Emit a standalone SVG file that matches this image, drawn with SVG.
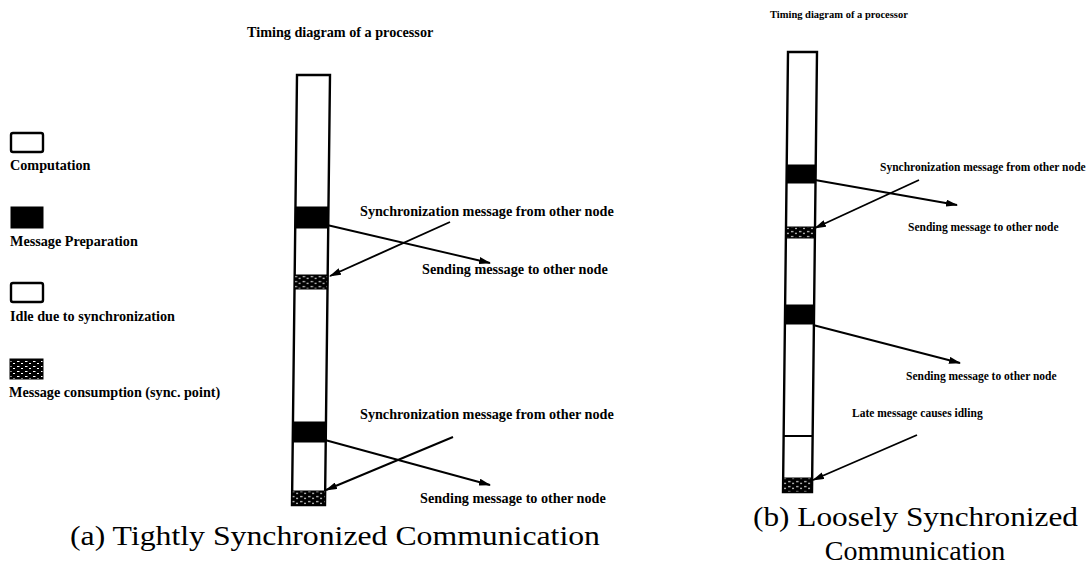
<svg xmlns="http://www.w3.org/2000/svg" width="1089" height="572" viewBox="0 0 1089 572">
<defs>
<style>
.lbl{font-family:"Liberation Serif","Times New Roman",serif;font-weight:bold;fill:#000}
.a{font-size:14.2px}
.b{font-size:11.5px}
.cap{font-family:"Liberation Serif","Times New Roman",serif;font-size:28px;fill:#000}
.bar{fill:#fff;stroke:#000;stroke-width:2.4}
.blk{fill:#000;stroke:#000;stroke-width:1}
.spk{fill:url(#speckle);stroke:#000;stroke-width:1}
.box{fill:#fff;stroke:#000;stroke-width:2.4}
.arr{fill:none;stroke:#000;stroke-width:1.9;marker-end:url(#ah)}
</style>
<pattern id="speckle" patternUnits="userSpaceOnUse" width="8" height="5">
<rect width="8" height="5" fill="#000"/>
<rect x="1" y="1" width="2.5" height="1" fill="#fff"/>
<rect x="5" y="3" width="2" height="1" fill="#fff"/>
</pattern>
<marker id="ah" markerUnits="userSpaceOnUse" markerWidth="12" markerHeight="7" refX="11" refY="3.5" orient="auto">
<path d="M0,0 L12,3.5 L0,7 z" fill="#000"/>
</marker>
</defs>

<g id="legend">
<g id="leg-computation">
<rect class="box" x="11" y="133" width="32" height="19" rx="2"/>
<text class="lbl a" x="10" y="170">Computation</text>
</g>
<g id="leg-preparation">
<rect class="blk" x="11" y="207" width="32" height="21"/>
<text class="lbl a" x="10" y="246">Message Preparation</text>
</g>
<g id="leg-idle">
<rect class="box" x="11" y="283" width="32" height="19" rx="2"/>
<text class="lbl a" x="10" y="321">Idle due to synchronization</text>
</g>
<g id="leg-consumption">
<rect class="spk" x="10" y="359" width="33" height="20"/>
<text class="lbl a" x="9" y="397">Message consumption (sync. point)</text>
</g>
</g>

<g id="panel-a">
<text id="title-a" class="lbl a" x="247" y="37">Timing diagram of a processor</text>
<g id="bar-a" transform="matrix(1 0 -0.01163 1 0.872 0)">
<rect class="bar" x="297" y="75" width="33" height="430"/>
<rect class="blk" x="297" y="207" width="33" height="21"/>
<rect class="spk" x="297" y="275" width="33" height="14"/>
<rect class="blk" x="297" y="422" width="33" height="20"/>
<rect class="spk" x="297" y="491" width="33" height="14"/>
</g>
<g id="labels-a">
<text class="lbl a" x="360" y="216">Synchronization message from other node</text>
<text class="lbl a" x="422" y="274">Sending message to other node</text>
<text class="lbl a" x="360" y="419">Synchronization message from other node</text>
<text class="lbl a" x="420" y="503">Sending message to other node</text>
</g>
</g>

<g id="panel-b">
<text id="title-b" class="lbl b" x="770" y="18" style="font-size:10.5px">Timing diagram of a processor</text>
<g id="bar-b" transform="matrix(1 0 -0.01136 1 0.59 0)">
<rect class="bar" x="788" y="52" width="29" height="440"/>
<rect class="blk" x="788" y="165" width="29" height="18"/>
<rect class="spk" x="788" y="227" width="29" height="11"/>
<rect class="blk" x="788" y="305" width="29" height="19"/>
<line x1="788" y1="436" x2="817" y2="436" stroke="#000" stroke-width="1.8"/>
<rect class="spk" x="788" y="478" width="29" height="14"/>
</g>
<g id="labels-b">
<text class="lbl b" x="880" y="171">Synchronization message from other node</text>
<text class="lbl b" x="908" y="231">Sending message to other node</text>
<text class="lbl b" x="906" y="380">Sending message to other node</text>
<text class="lbl b" x="852" y="417">Late message causes idling</text>
</g>
</g>

<g id="connectors">
<line class="arr" x1="327" y1="225" x2="490" y2="263"/>
<line class="arr" x1="450" y1="222" x2="330" y2="276"/>
<line class="arr" x1="325" y1="440" x2="490" y2="485"/>
<line class="arr" x1="453" y1="437" x2="326" y2="490"/>
<line class="arr" x1="815" y1="180" x2="957" y2="205"/>
<line class="arr" x1="919" y1="180" x2="815" y2="228"/>
<line class="arr" x1="813" y1="325" x2="960" y2="363"/>
<line class="arr" x1="917" y1="435" x2="813" y2="480"/>
</g>

<g id="captions">
<text class="cap" x="70" y="545" textLength="530" lengthAdjust="spacingAndGlyphs">(a) Tightly Synchronized Communication</text>
<text class="cap" x="753" y="526" textLength="325" lengthAdjust="spacingAndGlyphs">(b) Loosely Synchronized</text>
<text class="cap" x="915" y="560" text-anchor="middle">Communication</text>
</g>
</svg>
